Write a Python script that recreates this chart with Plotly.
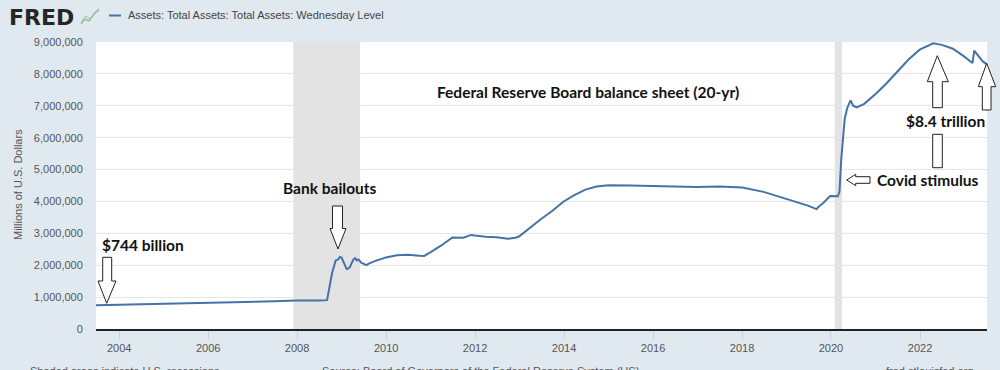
import plotly.graph_objects as go

# ---- data (millions of U.S. dollars, Wednesday level) ----
dates = [
    "2003-06-25", "2003-10-01", "2004-01-07", "2004-06-30", "2005-01-05", "2005-06-29",
    "2006-01-04", "2006-06-28", "2007-01-03", "2007-06-27", "2007-12-26", "2008-03-26",
    "2008-06-25", "2008-09-03", "2008-09-17", "2008-10-01", "2008-10-15", "2008-10-29",
    "2008-11-12", "2008-12-03", "2008-12-17", "2008-12-31", "2009-01-14", "2009-01-28",
    "2009-02-11", "2009-02-25", "2009-03-11", "2009-03-25", "2009-04-08", "2009-04-22",
    "2009-05-06", "2009-05-20", "2009-06-10", "2009-07-01", "2009-07-22", "2009-08-12",
    "2009-09-09", "2009-10-14", "2009-11-18", "2009-12-30", "2010-03-31", "2010-06-30",
    "2010-09-29", "2010-11-10", "2011-01-05", "2011-03-30", "2011-06-29", "2011-09-28",
    "2011-11-30", "2011-12-28", "2012-03-28", "2012-06-27", "2012-09-26", "2012-11-28",
    "2012-12-26", "2013-03-27", "2013-06-26", "2013-09-25", "2013-12-25", "2014-03-26",
    "2014-06-25", "2014-09-24", "2014-12-31", "2015-06-24", "2015-12-30", "2016-06-29",
    "2016-12-28", "2017-06-28", "2017-10-04", "2018-01-03", "2018-06-27", "2018-12-26",
    "2019-03-27", "2019-06-26", "2019-09-04", "2019-09-25", "2019-10-30", "2019-12-25",
    "2020-02-26", "2020-03-11", "2020-03-25", "2020-04-08", "2020-04-22", "2020-05-13",
    "2020-06-10", "2020-07-01", "2020-07-29", "2020-09-30", "2020-12-30", "2021-03-31",
    "2021-06-30", "2021-09-29", "2021-12-29", "2022-03-30", "2022-04-20", "2022-06-29",
    "2022-09-28", "2022-12-28", "2023-03-08", "2023-03-22", "2023-04-26", "2023-05-31",
    "2023-07-05",
]
assets = [
    745000, 752000, 762000, 775000, 795000, 808000,
    825000, 838000, 855000, 870000, 891000, 885000,
    895000, 905000, 1220000, 1480000, 1770000, 1950000,
    2150000, 2180000, 2260000, 2240000, 2100000, 1970000,
    1880000, 1900000, 1950000, 2080000, 2180000, 2220000,
    2150000, 2180000, 2080000, 2040000, 2000000, 2050000,
    2100000, 2150000, 2190000, 2240000, 2310000, 2330000,
    2300000, 2290000, 2420000, 2620000, 2870000, 2860000,
    2950000, 2930000, 2890000, 2880000, 2830000, 2860000,
    2900000, 3180000, 3450000, 3700000, 3990000, 4200000,
    4370000, 4470000, 4510000, 4500000, 4490000, 4470000,
    4450000, 4470000, 4460000, 4440000, 4300000, 4080000,
    3970000, 3870000, 3760000, 3850000, 3950000, 4170000,
    4160000, 4300000, 5300000, 6080000, 6570000, 6930000,
    7170000, 7000000, 6950000, 7060000, 7360000, 7700000,
    8060000, 8450000, 8760000, 8940000, 8960000, 8910000,
    8790000, 8550000, 8340000, 8730000, 8560000, 8390000,
    8300000,
]
recessions = [("2007-12-01", "2009-06-01"), ("2020-02-01", "2020-04-01")]
x_range = ["2003-06-25", "2023-07-05"]
y_range = [0, 9000000]
x_tickvals = ["2004-01-01", "2006-01-01", "2008-01-01", "2010-01-01", "2012-01-01",
              "2014-01-01", "2016-01-01", "2018-01-01", "2020-01-01", "2022-01-01"]
x_ticktext = ["2004", "2006", "2008", "2010", "2012", "2014", "2016", "2018", "2020", "2022"]
y_tickvals = [0, 1000000, 2000000, 3000000, 4000000, 5000000, 6000000, 7000000, 8000000, 9000000]

series_name = "Assets: Total Assets: Total Assets: Wednesday Level"
line_color = "#4572A7"

# ---- layout geometry (pixels) ----
W, H = 1000, 370
L, R, T, B = 96, 13, 42, 41
PW, PH = W - L - R, H - T - B


def px(x):
    return (x - L) / PW


def py(y):
    return (H - B - y) / PH


def poly(points):
    return "M " + " L ".join(f"{px(a):.5f},{py(b):.5f}" for a, b in points) + " Z"


def down_arrow(sl, sr, st, sb, hl, hr, tx, ty):
    return poly([(sl, st), (sr, st), (sr, sb), (hr, sb), (tx, ty), (hl, sb), (sl, sb)])


def up_arrow(sl, sr, sb, hb, hl, hr, tx, ty):
    return poly([(sl, sb), (sr, sb), (sr, hb), (hr, hb), (tx, ty), (hl, hb), (sl, hb)])


fig = go.Figure()
fig.add_trace(go.Scatter(x=dates, y=assets, mode="lines", name=series_name,
                         line=dict(color=line_color, width=2), showlegend=False))

shapes = []
for a, b in recessions:
    shapes.append(dict(type="rect", xref="x", yref="paper", x0=a, x1=b, y0=0, y1=1,
                       fillcolor="#e3e3e3", line=dict(width=0), layer="below"))

arrow_style = dict(type="path", xref="paper", yref="paper", fillcolor="white",
                   line=dict(color="#222", width=1), layer="above")
# $744 billion arrow (down)
shapes.append(dict(path=down_arrow(102.7, 111.7, 257.3, 281, 98, 116, 106.7, 303.3), **arrow_style))
# Bank bailouts arrow (down)
shapes.append(dict(path=down_arrow(332.5, 342.5, 206, 228.5, 330, 346, 338, 249), **arrow_style))
# 2022 peak arrow (up)
shapes.append(dict(path=up_arrow(932.7, 942.3, 107.7, 81.7, 927.3, 948.3, 937.3, 55.7), **arrow_style))
# right edge arrow (up)
shapes.append(dict(path=up_arrow(982.3, 991, 110, 86.7, 978.3, 995.7, 986.7, 63.3), **arrow_style))
# shaft under $8.4 trillion
shapes.append(dict(path=poly([(932.7, 134.3), (942.3, 134.3), (942.3, 167.7), (932.7, 167.7)]), **arrow_style))
# Covid stimulus arrow (left)
shapes.append(dict(path=poly([(846.7, 180), (855.7, 174.3), (855.7, 176.7), (870, 176.7),
                              (870, 183.3), (855.7, 183.3), (855.7, 185.7)]), **arrow_style))

# legend swatch
shapes.append(dict(type="line", xref="paper", yref="paper", x0=px(109), x1=px(121),
                   y0=py(15.5), y1=py(15.5), line=dict(color=line_color, width=2)))
# FRED icon (small chart glyph)
shapes.append(dict(type="path", xref="paper", yref="paper",
                   path="M " + " L ".join(f"{px(a):.5f},{py(b):.5f}" for a, b in
                                          [(81, 24), (85, 19), (89, 21), (94, 14), (99, 10)]),
                   line=dict(color="#9cc47a", width=1.5)))
shapes.append(dict(type="path", xref="paper", yref="paper",
                   path="M " + " L ".join(f"{px(a):.5f},{py(b):.5f}" for a, b in
                                          [(81, 22), (86, 16), (90, 19), (95, 12), (99, 9)]),
                   line=dict(color="#9bb7d6", width=1)))

bold_font = dict(family="Lato", size=15.5, color="#111")
annotations = []


def add_text(text, cx, cy, font, xanchor="center"):
    annotations.append(dict(text=text, x=px(cx), y=py(cy), xref="paper", yref="paper",
                            showarrow=False, xanchor=xanchor, yanchor="middle", font=font))


add_text("<b>Federal Reserve Board balance sheet (20-yr)</b>", 588, 91.5, bold_font)
add_text("<b>Bank bailouts</b>", 330, 188, bold_font)
add_text("<b>$744 billion</b>", 143, 245, bold_font)
add_text("<b>$8.4 trillion</b>", 945, 121.5, bold_font)
add_text("<b>Covid stimulus</b>", 928, 180, bold_font)

# header
add_text("<b>FRED</b>", 7, 17, dict(family="DejaVu Sans", size=22, color="#262626"), xanchor="left")
add_text(series_name, 126, 15.5, dict(family="Liberation Sans", size=11, color="#444"), xanchor="left")

# y axis title
annotations.append(dict(text="Millions of U.S. Dollars", x=px(18), y=py(185), xref="paper", yref="paper",
                        showarrow=False, textangle=-90, xanchor="center", yanchor="middle",
                        font=dict(family="Liberation Sans", size=11, color="#555")))

# footer (cut off at the bottom of the frame, as in the original screenshot)
foot_font = dict(family="Liberation Sans", size=11, color="#555")
for txt, xx, anchor in [("Shaded areas indicate U.S. recessions", 28, "left"),
                        ("Source: Board of Governors of the Federal Reserve System (US)", 320, "left"),
                        ("fred.stlouisfed.org", 975, "right")]:
    annotations.append(dict(text=txt, x=px(xx), y=py(363), xref="paper", yref="paper",
                            showarrow=False, xanchor=anchor, yanchor="top", font=foot_font))

fig.update_layout(
    width=W, height=H,
    margin=dict(l=L, r=R, t=T, b=B),
    paper_bgcolor="#e1e9f0",
    plot_bgcolor="white",
    shapes=shapes,
    annotations=annotations,
    showlegend=False,
    xaxis=dict(type="date", range=x_range, tickvals=x_tickvals, ticktext=x_ticktext,
               showgrid=False, zeroline=False, ticks="outside", ticklen=8, tickcolor="#d0d0d0",
               showline=True, linecolor="#222", linewidth=2,
               tickfont=dict(family="Liberation Sans", size=11, color="#555")),
    yaxis=dict(range=y_range, tickvals=y_tickvals, tickformat=",", showgrid=True,
               gridcolor="#e6e6e6", gridwidth=1, zeroline=False, ticks="outside", ticklen=10,
               tickcolor="rgba(0,0,0,0)", showline=False,
               tickfont=dict(family="Liberation Sans", size=11, color="#555")),
)

fig.write_html("out.html", config={"displayModeBar": False},
               post_script="document.body.style.margin='0';document.body.style.overflow='hidden';")
